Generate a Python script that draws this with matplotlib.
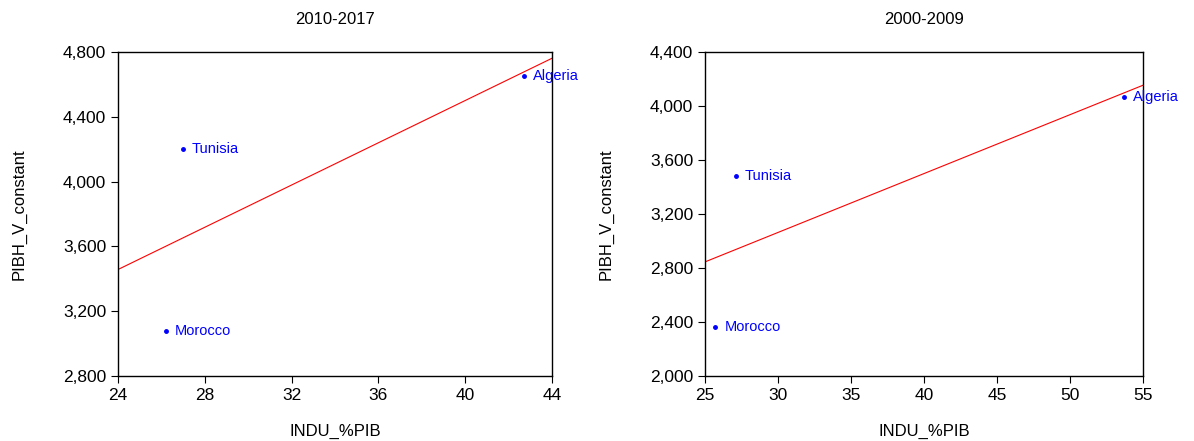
import numpy as np
import matplotlib
matplotlib.use("Agg")
import matplotlib.pyplot as plt
from matplotlib.ticker import FuncFormatter

plt.rcParams['font.family'] = ['Liberation Sans', 'DejaVu Sans']

# === Данные ===
countries = ["Algeria", "Tunisia", "Morocco"]

# 2010-2017
indu_2010 = [42.7, 27.0, 26.2]
pibh_2010 = [4650, 4200, 3080]

# 2000-2009
indu_2000 = [53.7, 27.1, 25.7]
pibh_2000 = [4070, 3480, 2360]

panels = [
    ("2010-2017", indu_2010, pibh_2010, (24, 44), np.arange(24, 45, 4), (2800, 4800), np.arange(2800, 4801, 400)),
    ("2000-2009", indu_2000, pibh_2000, (25, 55), np.arange(25, 56, 5), (2000, 4400), np.arange(2000, 4401, 400)),
]
positions = [[0.0988, 0.1474, 0.3635, 0.7347], [0.5905, 0.1474, 0.3668, 0.7347]]

fig = plt.figure(figsize=(11.94, 4.41), dpi=100)

for (title, x, y, xlim, xticks, ylim, yticks), pos in zip(panels, positions):
    ax = fig.add_axes(pos)
    ax.plot(x, y, 'o', color='blue', markersize=2.5)
    for name, xi, yi in zip(countries, x, y):
        ax.annotate(name, (xi, yi), xytext=(6.5, 0), textcoords='offset points',
                    color='blue', fontsize=10.5, va='center', ha='left', annotation_clip=False)

    # линия регрессии
    slope, intercept = np.polyfit(x, y, 1)
    xs = np.array(xlim, dtype=float)
    ax.plot(xs, slope * xs + intercept, color='red', linewidth=0.8)

    ax.set_xlim(xlim)
    ax.set_ylim(ylim)
    ax.set_xticks(xticks)
    ax.set_yticks(yticks)
    ax.yaxis.set_major_formatter(FuncFormatter(lambda v, p: f"{int(v):,}"))
    ax.tick_params(direction='out', length=5, width=0.8, labelsize=12.5, top=False, right=False)
    for s in ax.spines.values():
        s.set_linewidth(1.0)
    ax.set_title(title, fontsize=12, pad=20)
    ax.set_xlabel("INDU_%PIB", fontsize=12, labelpad=15)
    ax.set_ylabel("PIBH_V_constant", fontsize=12, labelpad=26)

fig.savefig("out.png", dpi=100)
